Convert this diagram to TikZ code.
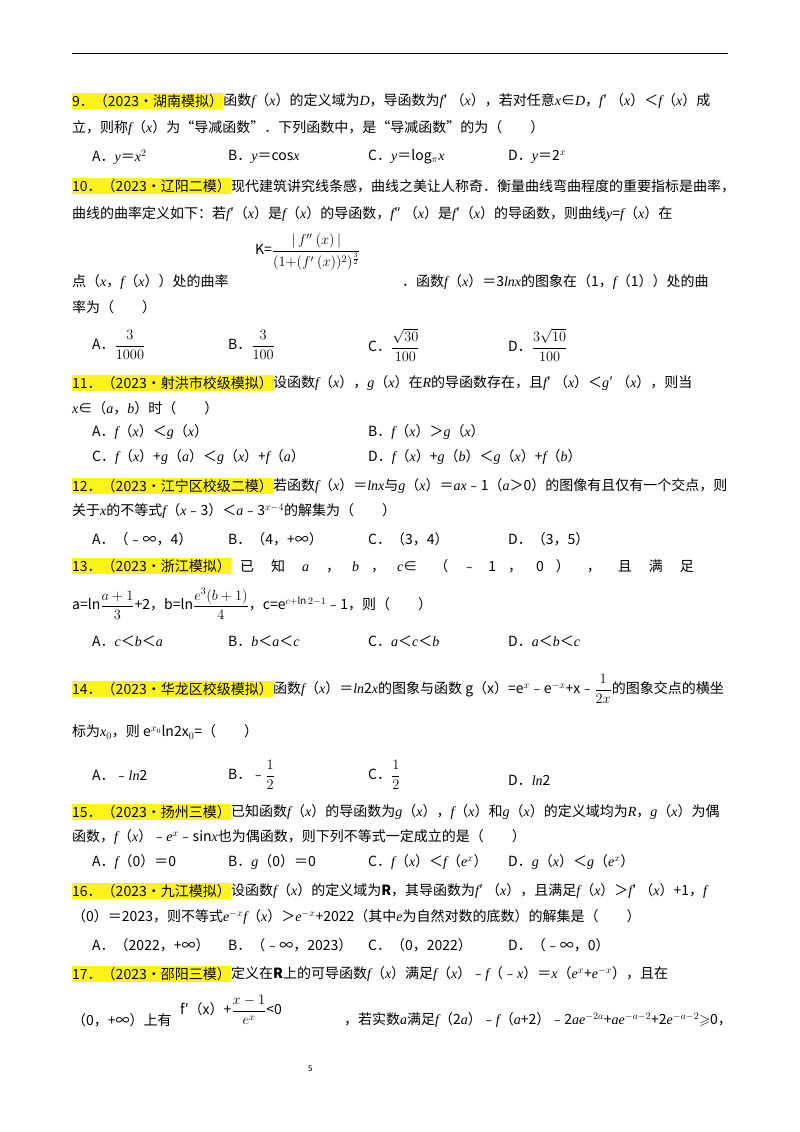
\documentclass[tikz,border=0pt]{standalone}
\usepackage{amsmath,amssymb}
\usepackage{fontspec}
\setmainfont{Noto Sans CJK SC}
\newfontfamily\lat{Liberation Serif}
\newcommand{\ii}[1]{{\lat\itshape #1}}
\begin{document}
\begin{tikzpicture}[x=1pt,y=-1pt,
  t/.style={anchor=west,inner sep=0,font=\fontsize{14}{16}\selectfont},
  hl/.style={t,fill=yellow!90!white,inner ysep=1.5pt}]
\useasboundingbox (0,0) rectangle (800,1132);
\fill[white] (0,0) rectangle (800,1132);
\coordinate (la) at (72,53); \coordinate (lb) at (728,53);
\draw[line width=0.8pt] (la) -- (lb);
% 9
\node[hl] (h9) at (72,101) {9．（2023•湖南模拟）};
\node[t] at (h9.east) {函数\ii{f}（\ii{x}）的定义域为\ii{D}，导函数为\ii{f}′ （\ii{x}），若对任意\ii{x}∈\ii{D}，\ii{f}′ （\ii{x}）＜\ii{f}（\ii{x}）成};
\node[t] (n) at (72,128) {立，则称\ii{f}（\ii{x}）为“导减函数”．下列函数中，是“导减函数”的为（　　）};
\node[t] at (92,157) {A．\ii{y}＝\ii{x}$^2$};
\node[t] at (228,157) {B．\ii{y}＝cos\ii{x}};
\node[t] at (368,157) {C．\ii{y}＝log$_{\pi}$\ii{x}};
\node[t] at (508,157) {D．\ii{y}＝2$^{x}$};
% 10
\node[hl] (h10) at (72,186) {10．（2023•辽阳二模）};
\node[t] at (h10.east) {现代建筑讲究线条感，曲线之美让人称奇．衡量曲线弯曲程度的重要指标是曲率，};
\node[t] at (72,214) {曲线的曲率定义如下：若\ii{f}′（\ii{x}）是\ii{f}（\ii{x}）的导函数，\ii{f}″ （\ii{x}）是\ii{f}′（\ii{x}）的导函数，则曲线\ii{y}=\ii{f}（\ii{x}）在};
\node[t] (K) at (255,252) {K=$\dfrac{|\,f''\ (x)\,|}{\rule{0pt}{13pt}(1{+}(f'\ (x))^{2})^{\frac32}}$};
\node[t] at (72,282) {点（\ii{x}，\ii{f}（\ii{x}））处的曲率};
\node[t] at (402,282) {．函数\ii{f}（\ii{x}）＝3\ii{lnx}的图象在（1，\ii{f}（1））处的曲};
\node[t] at (72,307) {率为（　　）};
\node[t] at (92,345) {A．$\dfrac{3}{1000}$};
\node[t] at (228,345) {B．$\dfrac{3}{100}$};
\node[t] at (368,345) {C．$\dfrac{\sqrt{30}}{100}$};
\node[t] at (508,345) {D．$\dfrac{3\sqrt{10}}{100}$};
% 11
\node[hl] (h11) at (72,383) {11．（2023•射洪市校级模拟）};
\node[t] at (h11.east) {设函数\ii{f}（\ii{x}），\ii{g}（\ii{x}）在\ii{R}的导函数存在，且\ii{f}′ （\ii{x}）＜\ii{g}′ （\ii{x}），则当};
\node[t] at (72,408) {\ii{x}∈（\ii{a}，\ii{b}）时（　　）};
\node[t] at (92,432) {A．\ii{f}（\ii{x}）＜\ii{g}（\ii{x}）};
\node[t] at (368,432) {B．\ii{f}（\ii{x}）＞\ii{g}（\ii{x}）};
\node[t] at (92,457) {C．\ii{f}（\ii{x}）+\ii{g}（\ii{a}）＜\ii{g}（\ii{x}）+\ii{f}（\ii{a}）};
\node[t] at (368,457) {D．\ii{f}（\ii{x}）+\ii{g}（\ii{b}）＜\ii{g}（\ii{x}）+\ii{f}（\ii{b}）};
% 12
\node[hl] (h12) at (72,486) {12．（2023•江宁区校级二模）};
\node[t] at (h12.east) {若函数\ii{f}（\ii{x}）＝\ii{lnx}与\ii{g}（\ii{x}）＝\ii{ax}﹣1（\ii{a}＞0）的图像有且仅有一个交点，则};
\node[t] at (72,511) {关于\ii{x}的不等式\ii{f}（\ii{x}﹣3）＜\ii{a}﹣3$^{x-4}$的解集为（　　）};
\node[t] at (92,539) {A．（﹣∞，4）};
\node[t] at (228,539) {B．（4，+∞）};
\node[t] at (368,539) {C．（3，4）};
\node[t] at (508,539) {D．（3，5）};
% 13
\node[hl] (h13) at (72,566) {13．（2023•浙江模拟）};
\node[t] at (h13.east) {\hspace{9pt}已\hspace{17pt}知\hspace{17pt}\ii{a}\hspace{17pt}，\hspace{12pt}\ii{b}\hspace{12pt}，\hspace{12pt}\ii{c}∈\hspace{17pt}（\hspace{14pt}﹣\hspace{12pt}1\hspace{12pt}，\hspace{14pt}0\hspace{12pt}）\hspace{17pt}，\hspace{17pt}且\hspace{17pt}满\hspace{17pt}足};
\node[t] at (72,604) {a=ln$\dfrac{a+1}{3}$+2，b=ln$\dfrac{e^{3}(b+1)}{4}$，c=e$^{c+\ln 2-1}$﹣1，则（　　）};
\node[t] at (92,641) {A．\ii{c}＜\ii{b}＜\ii{a}};
\node[t] at (228,641) {B．\ii{b}＜\ii{a}＜\ii{c}};
\node[t] at (368,641) {C．\ii{a}＜\ii{c}＜\ii{b}};
\node[t] at (508,641) {D．\ii{a}＜\ii{b}＜\ii{c}};
% 14
\node[hl] (h14) at (72,689) {14．（2023•华龙区校级模拟）};
\node[t] at (h14.east) {函数\ii{f}（\ii{x}）＝\ii{ln}2\ii{x}的图象与函数 g（x）=e$^{x}$﹣e$^{-x}$+x﹣$\dfrac{1}{2x}$的图象交点的横坐};
\node[t] at (72,732) {标为\ii{x}$_0$，则 e$^{x_0}$ln2x$_0$=（　　）};
\node[t] at (92,775) {A．﹣\ii{ln}2};
\node[t] at (228,775) {B．﹣$\dfrac12$};
\node[t] at (368,775) {C．$\dfrac12$};
\node[t] at (508,780) {D．\ii{ln}2};
% 15
\node[hl] (h15) at (72,812) {15．（2023•扬州三模）};
\node[t] at (h15.east) {已知函数\ii{f}（\ii{x}）的导函数为\ii{g}（\ii{x}），\ii{f}（\ii{x}）和\ii{g}（\ii{x}）的定义域均为\ii{R}，\ii{g}（\ii{x}）为偶};
\node[t] at (72,837) {函数，\ii{f}（\ii{x}）﹣\ii{e}$^{x}$﹣sin\ii{x}也为偶函数，则下列不等式一定成立的是（　　）};
\node[t] at (92,862) {A．\ii{f}（0）＝0};
\node[t] at (228,862) {B．\ii{g}（0）＝0};
\node[t] at (368,862) {C．\ii{f}（\ii{x}）＜\ii{f}（\ii{e}$^{x}$）};
\node[t] at (508,862) {D．\ii{g}（\ii{x}）＜\ii{g}（\ii{e}$^{x}$）};
% 16
\node[hl] (h16) at (72,891) {16．（2023•九江模拟）};
\node[t] at (h16.east) {设函数\ii{f}（\ii{x}）的定义域为\textbf{R}，其导函数为\ii{f}′ （\ii{x}），且满足\ii{f}（\ii{x}）＞\ii{f}′ （\ii{x}）+1，\ii{f}};
\node[t] at (72,917) {（0）＝2023，则不等式\ii{e}$^{-x}$\ii{f}（\ii{x}）＞\ii{e}$^{-x}$+2022（其中\ii{e}为自然对数的底数）的解集是（　　）};
\node[t] at (92,945) {A．（2022，+∞）};
\node[t] at (228,945) {B．（﹣∞，2023）};
\node[t] at (368,945) {C．（0，2022）};
\node[t] at (508,945) {D．（﹣∞，0）};
% 17
\node[hl] (h17) at (72,974) {17．（2023•邵阳三模）};
\node[t] at (h17.east) {定义在\textbf{R}上的可导函数\ii{f}（\ii{x}）满足\ii{f}（\ii{x}）﹣\ii{f}（﹣\ii{x}）＝\ii{x}（\ii{e}$^{x}$+\ii{e}$^{-x}$），且在};
\node[t] at (72,1020) {（0，+∞）上有};
\node[t] at (180,1010) {f′（x）+$\dfrac{x-1}{e^{x}}$<0};
\node[t] at (344,1020) {，若实数\ii{a}满足\ii{f}（2\ii{a}）﹣\ii{f}（\ii{a}+2）﹣2\ii{ae}$^{-2a}$+\ii{ae}$^{-a-2}$+2\ii{e}$^{-a-2}$$\geqslant$0，};
\node[t] at (308,1069) {\footnotesize 5};
\end{tikzpicture}
\end{document}
